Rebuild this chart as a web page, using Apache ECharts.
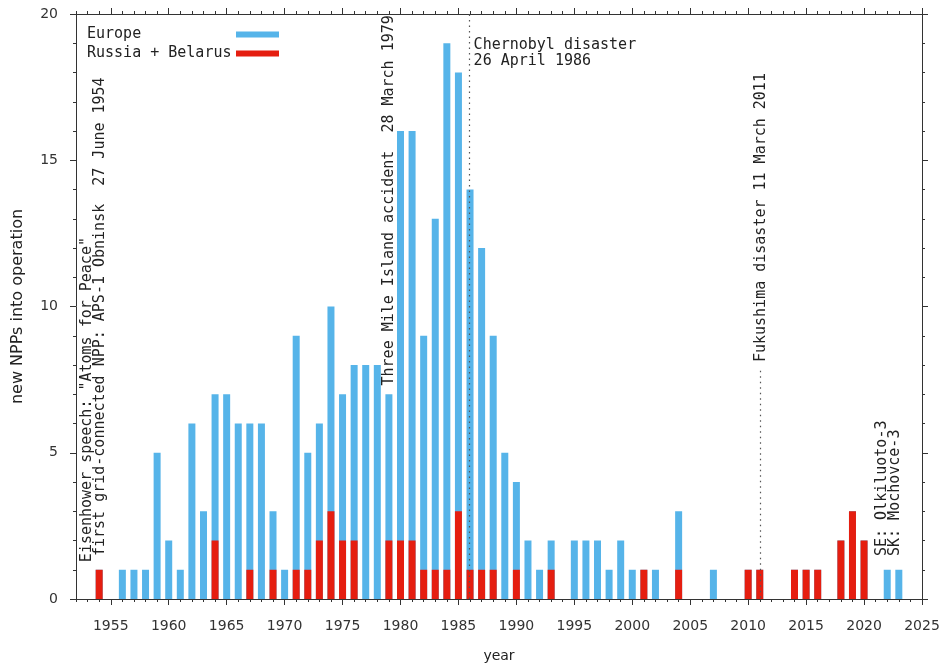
<!DOCTYPE html>
<html>
<head>
<meta charset="utf-8">
<script src="https://cdn.jsdelivr.net/npm/echarts@6/dist/echarts.min.js"></script>
<style>
html, body { margin: 0; padding: 0; background: #fff; }
#chart { width: 943px; height: 666px; }
</style>
</head>
<body>
<div id="chart"></div>
<script>
// years with new NPPs, Europe total (incl. Russia + Belarus) and Russia + Belarus
const years = [1954, 1955, 1956, 1957, 1958, 1959, 1960, 1961, 1962, 1963,
  1964, 1965, 1966, 1967, 1968, 1969, 1970, 1971, 1972, 1973,
  1974, 1975, 1976, 1977, 1978, 1979, 1980, 1981, 1982, 1983,
  1984, 1985, 1986, 1987, 1988, 1989, 1990, 1991, 1992, 1993,
  1994, 1995, 1996, 1997, 1998, 1999, 2000, 2001, 2002, 2003,
  2004, 2005, 2006, 2007, 2008, 2009, 2010, 2011, 2012, 2013,
  2014, 2015, 2016, 2017, 2018, 2019, 2020, 2021, 2022, 2023]
const europe = [1, 0, 1, 1, 1, 5, 2, 1, 6, 3,
  7, 7, 6, 6, 6, 3, 1, 9, 5, 6,
  10, 7, 8, 8, 8, 7, 16, 16, 9, 13,
  19, 18, 14, 12, 9, 5, 4, 2, 1, 2,
  0, 2, 2, 2, 1, 2, 1, 1, 1, 0,
  3, 0, 0, 1, 0, 0, 1, 1, 0, 0,
  1, 1, 1, 0, 2, 3, 2, 0, 1, 1]
const russiaBelarus = [1, 0, 0, 0, 0, 0, 0, 0, 0, 0,
  2, 0, 0, 1, 0, 1, 0, 1, 1, 2,
  3, 2, 2, 0, 0, 2, 2, 2, 1, 1,
  1, 3, 1, 1, 1, 0, 1, 0, 0, 1,
  0, 0, 0, 0, 0, 0, 0, 1, 0, 0,
  1, 0, 0, 0, 0, 0, 1, 1, 0, 0,
  1, 1, 1, 0, 2, 3, 2, 0, 0, 0]
const majorYears = [1955, 1960, 1965, 1970, 1975, 1980, 1985, 1990, 1995,
  2000, 2005, 2010, 2015, 2020, 2025]

// event annotations (vertical text reads upwards from the given point)
const notes = [
  { text: 'Eisenhower speech: "Atoms for Peace"', x: 1952.95, y: 1.26 },
  { text: 'first grid-connected NPP: APS-1 Obninsk  27 June 1954', x: 1954.07, y: 1.47 },
  { text: 'Three Mile Island accident  28 March 1979', x: 1979.0, y: 7.3 },
  { text: 'Fukushima disaster 11 March 2011', x: 2011.1, y: 8.1 },
  { text: 'SE: Olkiluoto-3', x: 2021.6, y: 1.47 },
  { text: 'SK: Mochovce-3', x: 2022.7, y: 1.47 }
]

const mono = 'DejaVu Sans Mono'
const sans = 'DejaVu Sans'
const axisColor = '#333'
const blue = '#56b4e9'
const red = '#e51e10'

const chart = echarts.init(document.getElementById('chart'))

function xAxisDef (pos, major) {
  const ax = {
    type: 'value',
    position: pos,
    min: 1952,
    max: 2025,
    axisLine: { show: major, onZero: false, lineStyle: { color: axisColor, width: 1 } },
    axisTick: { show: true, length: major ? 6 : 3, lineStyle: { color: axisColor } },
    axisLabel: { show: false },
    splitLine: { show: false }
  }
  if (major) {
    ax.axisTick.customValues = majorYears
  } else {
    ax.interval = 1
  }
  return ax
}

function yAxisDef (pos) {
  return {
    type: 'value',
    position: pos,
    min: 0,
    max: 20,
    interval: 5,
    axisLine: { show: true, onZero: false, lineStyle: { color: axisColor, width: 1 } },
    axisTick: { show: true, length: 6, lineStyle: { color: axisColor } },
    minorTick: { show: true, splitNumber: 5, length: 3, lineStyle: { color: axisColor } },
    axisLabel: { show: pos === 'left', margin: 18, fontFamily: sans, fontSize: 14, color: '#333' },
    splitLine: { show: false },
    minorSplitLine: { show: false }
  }
}

const bottomAxis = xAxisDef('bottom', true)
bottomAxis.axisLabel = {
  show: true,
  customValues: majorYears,
  formatter: v => String(v),
  margin: 20,
  fontFamily: sans,
  fontSize: 14,
  color: '#333'
}
bottomAxis.name = 'year'
bottomAxis.nameLocation = 'middle'
bottomAxis.nameGap = 50
bottomAxis.nameTextStyle = { fontFamily: sans, fontSize: 14, color: '#222' }

const leftAxis = yAxisDef('left')
leftAxis.name = 'new NPPs into operation'
leftAxis.nameLocation = 'middle'
leftAxis.nameGap = 50
leftAxis.nameTextStyle = { fontFamily: sans, fontSize: 16, color: '#222' }

const option = {
  animation: false,
  backgroundColor: '#fff',
  grid: { left: 76, right: 21, top: 14, bottom: 67, containLabel: false, outerBoundsMode: 'none' },
  legend: {
    orient: 'vertical',
    left: 82,
    top: 22,
    align: 'right',
    icon: 'rect',
    itemWidth: 43,
    itemHeight: 6,
    itemGap: 4,
    selectedMode: false,
    formatter: name => '{a|' + name + '}',
    textStyle: {
      color: '#222',
      rich: { a: { width: 144, align: 'left', fontFamily: mono, fontSize: 15, color: '#222' } }
    },
    data: ['Europe', 'Russia + Belarus']
  },
  xAxis: [bottomAxis, xAxisDef('bottom', false), xAxisDef('top', true), xAxisDef('top', false)],
  yAxis: [leftAxis, yAxisDef('right')],
  series: [
    {
      name: 'Europe',
      type: 'bar',
      barWidth: 7,
      barGap: '-100%',
      itemStyle: { color: blue },
      data: years.map((y, i) => [y, europe[i]]),
      markLine: {
        silent: true,
        symbol: ['none', 'none'],
        label: { show: false },
        lineStyle: { type: [1.5, 4], color: '#555', width: 1.2 },
        data: [
          { xAxis: 1985.9 },
          [{ coord: [2011.0, 7.8] }, { coord: [2011.0, 0] }]
        ]
      }
    },
    {
      name: 'Russia + Belarus',
      type: 'bar',
      barWidth: 7,
      barGap: '-100%',
      itemStyle: { color: red },
      data: years.map((y, i) => [y, russiaBelarus[i]])
    }
  ]
}
chart.setOption(option)

// place the annotations from data coordinates
const toPx = (x, y) => chart.convertToPixel({ xAxisIndex: 0, yAxisIndex: 0 }, [x, y])
const graphics = notes.map(n => {
  const p = toPx(n.x, n.y)
  return {
    type: 'text',
    x: p[0],
    y: p[1],
    rotation: Math.PI / 2,
    style: { text: n.text, font: '15px "' + mono + '"', fill: '#222', textAlign: 'left', textVerticalAlign: 'middle' },
    z: 10
  }
})
const cp = toPx(1986.31, 19.2)
graphics.push({
  type: 'text',
  x: cp[0],
  y: cp[1],
  style: { text: 'Chernobyl disaster\n26 April 1986', font: '15px "' + mono + '"', fill: '#222', textAlign: 'left', textVerticalAlign: 'top', lineHeight: 16 },
  z: 10
})
chart.setOption({ graphic: graphics })
</script>
</body>
</html>
